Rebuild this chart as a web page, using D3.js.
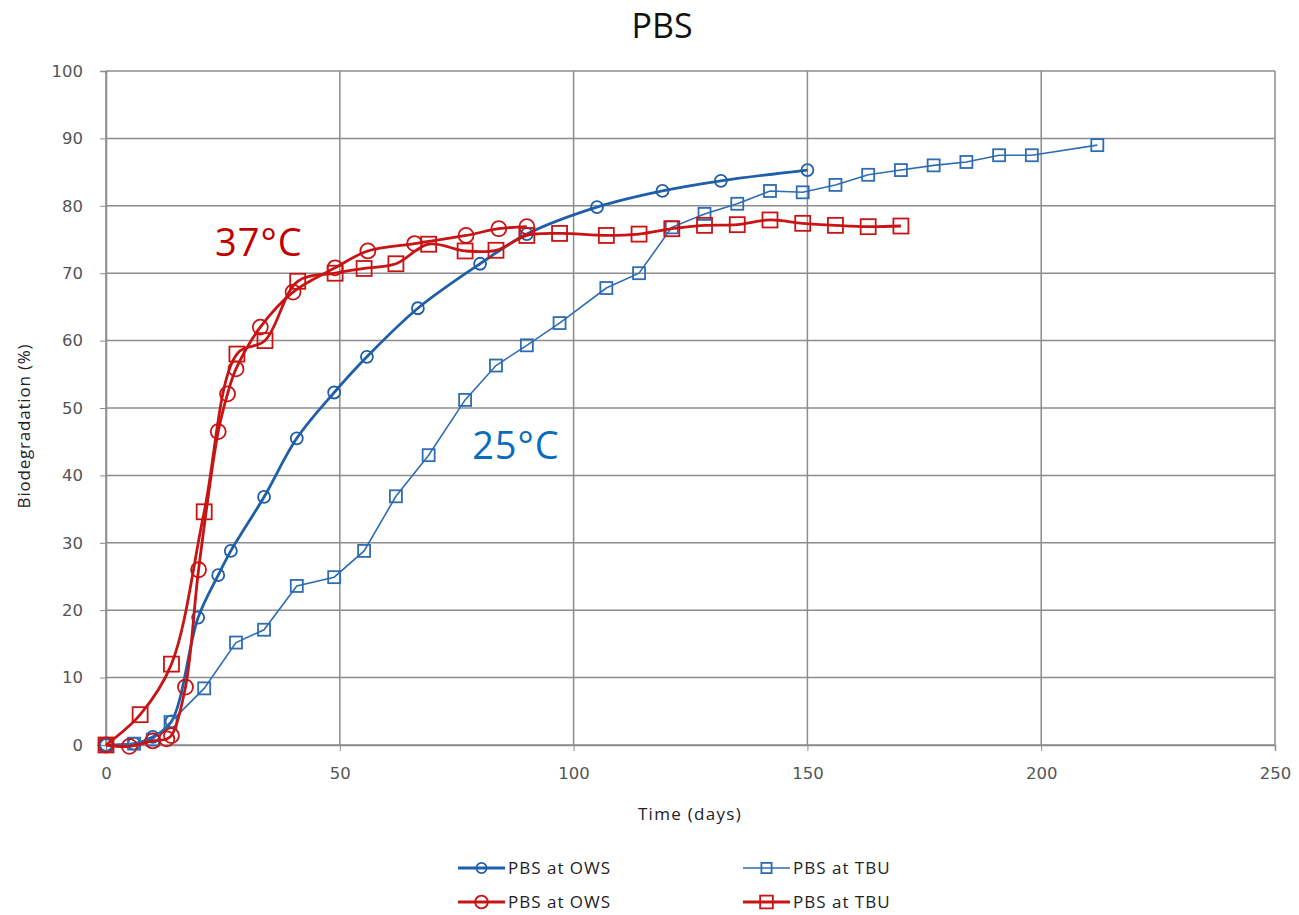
<!DOCTYPE html>
<html>
<head>
<meta charset="utf-8">
<script src="https://cdn.jsdelivr.net/npm/d3@7"></script>
<style>
  body { margin: 0; background: #fff; }
  .tick text { font-family: "DejaVu Sans", sans-serif; font-size: 16.5px; fill: #555; }
</style>
</head>
<body>
<script>
// data: [day, biodegradation %]
var owsDays25 = [0, 6, 10, 14, 19.7, 24, 26.7, 33.8, 40.8, 48.8, 55.8, 66.7, 80, 90, 105, 119, 131.5, 150];
var owsVals25 = [0, 0.2, 1.2, 3.5, 18.9, 25.2, 28.8, 36.8, 45.5, 52.3, 57.6, 64.8, 71.4, 75.8, 79.8, 82.2, 83.7, 85.3];

var tbuDays25 = [0, 6, 10, 13.8, 21, 27.8, 33.8, 40.8, 48.8, 55.2, 62, 69, 76.8, 83.4, 90, 97, 107, 114, 121, 128, 135, 142, 149, 156, 163, 170, 177, 184, 191, 198, 212];
var tbuVals25 = [0, 0.2, 0.8, 3.4, 8.4, 15.2, 17.1, 23.6, 24.9, 28.8, 36.9, 43, 51.2, 56.3, 59.3, 62.6, 67.8, 70, 76.8, 78.8, 80.3, 82.2, 82, 83.1, 84.6, 85.3, 86, 86.5, 87.5, 87.5, 89];

var owsDays37 = [0, 5, 10, 13, 14, 17, 19.8, 24, 26, 27.8, 33, 40, 49, 56, 66, 77, 84, 90];
var owsVals37 = [0, -0.2, 0.6, 0.9, 1.4, 8.6, 26, 46.5, 52.1, 55.8, 62, 67.2, 70.8, 73.3, 74.4, 75.6, 76.6, 76.9];

var tbuDays37 = [0, 7.3, 14, 21, 28, 34, 41, 49, 55.2, 62, 69, 76.8, 83.4, 90, 97, 107, 114, 121, 128, 135, 142, 149, 156, 163, 170];
var tbuVals37 = [0, 4.5, 12, 34.6, 58, 60, 68.8, 70, 70.7, 71.4, 74.3, 73.3, 73.4, 75.6, 75.9, 75.6, 75.8, 76.6, 77.1, 77.2, 77.9, 77.4, 77.1, 76.9, 77];

var xTicks = [0, 50, 100, 150, 200, 250];
var yTicks = [0, 10, 20, 30, 40, 50, 60, 70, 80, 90, 100];

var series = [
  { name: 'PBS at OWS', days: owsDays25, vals: owsVals25, color: '#1f5ea8', lw: 2.8, marker: 'circle', size: 6, smooth: true },
  { name: 'PBS at TBU', days: tbuDays25, vals: tbuVals25, color: '#2e6cb3', lw: 1.6, marker: 'square', size: 12, smooth: false },
  { name: 'PBS at OWS', days: owsDays37, vals: owsVals37, color: '#c81414', lw: 2.8, marker: 'circle', size: 7.5, smooth: true },
  { name: 'PBS at TBU', days: tbuDays37, vals: tbuVals37, color: '#c81414', lw: 2.8, marker: 'square', size: 15, smooth: true }
];

var W = 1299, H = 915;
var margin = { top: 71, left: 106, right: 24, bottom: 170 };
var width = W - margin.left - margin.right;
var height = H - margin.top - margin.bottom;

var svg = d3.select('body').append('svg')
  .attr('width', W)
  .attr('height', H);

var g = svg.append('g')
  .attr('transform', 'translate(' + margin.left + ',' + margin.top + ')');

var xScale = d3.scaleLinear().domain([0, 250]).range([0, width]);
var yScale = d3.scaleLinear().domain([0, 100]).range([height, 0]);

// grid
g.selectAll('.hgrid').data(yTicks).enter().append('line')
  .attr('x1', 0).attr('x2', width)
  .attr('y1', d => yScale(d)).attr('y2', d => yScale(d))
  .attr('stroke', '#8c8c8c').attr('stroke-width', 1.5);
g.selectAll('.vgrid').data(xTicks).enter().append('line')
  .attr('y1', 0).attr('y2', height)
  .attr('x1', d => xScale(d)).attr('x2', d => xScale(d))
  .attr('stroke', '#8c8c8c').attr('stroke-width', 1.5);

// axes
var xAxis = d3.axisBottom(xScale).tickValues(xTicks).tickSize(6).tickPadding(16);
var yAxis = d3.axisLeft(yScale).tickValues(yTicks).tickSize(6).tickPadding(17);

g.append('g').attr('transform', 'translate(0,' + height + ')').call(xAxis)
  .call(a => a.select('.domain').attr('stroke', '#8c8c8c').attr('stroke-width', 1.5))
  .call(a => a.selectAll('.tick line').attr('stroke', '#8c8c8c'));
g.append('g').call(yAxis)
  .call(a => a.select('.domain').attr('stroke', '#8c8c8c').attr('stroke-width', 1.5))
  .call(a => a.selectAll('.tick line').attr('stroke', '#8c8c8c'));

// lines and markers
series.forEach(function(s) {
  var pts = s.days.map((d, i) => [d, s.vals[i]]);
  var line = d3.line()
    .x(d => xScale(d[0])).y(d => yScale(d[1]))
    .curve(s.smooth ? d3.curveCatmullRom.alpha(0.5) : d3.curveLinear);
  g.append('path').datum(pts)
    .attr('d', line)
    .attr('fill', 'none')
    .attr('stroke', s.color)
    .attr('stroke-width', s.lw);

  var mk = g.append('g');
  if (s.marker === 'circle') {
    mk.selectAll('circle').data(pts).enter().append('circle')
      .attr('cx', d => xScale(d[0])).attr('cy', d => yScale(d[1]))
      .attr('r', s.size)
      .attr('fill', 'none')
      .attr('stroke', s.color).attr('stroke-width', 1.8);
  } else {
    mk.selectAll('rect').data(pts).enter().append('rect')
      .attr('x', d => xScale(d[0]) - s.size / 2).attr('y', d => yScale(d[1]) - s.size / 2)
      .attr('width', s.size).attr('height', s.size)
      .attr('fill', 'none')
      .attr('stroke', s.color).attr('stroke-width', 1.8);
  }
});

// annotations
g.append('text').attr('x', xScale(23.3)).attr('y', yScale(72.5))
  .attr('font-family', 'Open Sans, sans-serif').attr('font-size', 38)
  .attr('letter-spacing', 1)
  .attr('fill', '#c00000').text('37°C');
g.append('text').attr('x', xScale(78.3)).attr('y', yScale(42.5))
  .attr('font-family', 'Open Sans, sans-serif').attr('font-size', 38)
  .attr('letter-spacing', 1)
  .attr('fill', '#0a6cbd').text('25°C');

// title and axis titles
svg.append('text').attr('x', 662).attr('y', 38)
  .attr('text-anchor', 'middle')
  .attr('font-family', 'Open Sans, sans-serif').attr('font-size', 34)
  .attr('fill', '#111').text('PBS');

svg.append('text').attr('x', 690).attr('y', 820)
  .attr('text-anchor', 'middle')
  .attr('font-family', 'Open Sans, sans-serif').attr('font-size', 17)
  .attr('letter-spacing', 1.3)
  .attr('fill', '#222').text('Time (days)');

svg.append('text')
  .attr('transform', 'translate(30,426) rotate(-90)')
  .attr('text-anchor', 'middle')
  .attr('font-family', 'Open Sans, sans-serif').attr('font-size', 17)
  .attr('letter-spacing', 0.8)
  .attr('fill', '#222').text('Biodegradation (%)');

// legend
var legendPos = [[458, 868], [743, 868], [458, 902], [743, 902]];
series.forEach(function(s, i) {
  var lx = legendPos[i][0], ly = legendPos[i][1];
  var lg = svg.append('g');
  lg.append('line').attr('x1', lx).attr('x2', lx + 47).attr('y1', ly).attr('y2', ly)
    .attr('stroke', s.color).attr('stroke-width', s.lw);
  if (s.marker === 'circle') {
    lg.append('circle').attr('cx', lx + 23.5).attr('cy', ly).attr('r', s.size * 0.85)
      .attr('fill', 'none').attr('stroke', s.color).attr('stroke-width', 1.8);
  } else {
    var sz = s.size * 0.85;
    lg.append('rect').attr('x', lx + 23.5 - sz / 2).attr('y', ly - sz / 2)
      .attr('width', sz).attr('height', sz)
      .attr('fill', 'none').attr('stroke', s.color).attr('stroke-width', 1.8);
  }
  lg.append('text').attr('x', lx + 50).attr('y', ly + 6)
    .attr('font-family', 'Open Sans, sans-serif').attr('font-size', 17)
    .attr('letter-spacing', 1)
    .attr('fill', '#222').text(s.name);
});
</script>
</body>
</html>
